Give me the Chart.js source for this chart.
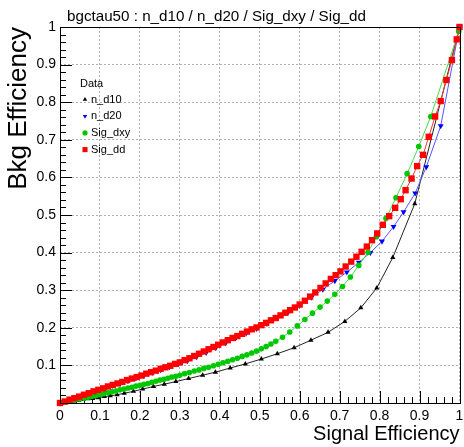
<!DOCTYPE html>
<html><head><meta charset="utf-8">
<script src="https://cdn.jsdelivr.net/npm/chart.js@4.4.0/dist/chart.umd.min.js"></script>
<style>html,body{margin:0;padding:0;background:#fff;}canvas{display:block;}</style>
</head><body>
<canvas id="c" width="464" height="447"></canvas>
<script>
const chartTitle = 'bgctau50 : n_d10 / n_d20 / Sig_dxy / Sig_dd';
const legendHeader = 'Data';
const seriesNames = ['n_d10', 'n_d20', 'Sig_dxy', 'Sig_dd'];
const xAxisTitle = 'Signal Efficiency';
const yAxisTitle = 'Bkg Efficiency';
const xTickLabels = ['0','0.1','0.2','0.3','0.4','0.5','0.6','0.7','0.8','0.9','1'];
const yTickLabels = ['','0.1','0.2','0.3','0.4','0.5','0.6','0.7','0.8','0.9','1'];

// n_d10 (black, triangle up)
const nd10X = [0.000,0.012,0.024,0.036,0.047,0.058,0.070,0.082,0.096,0.111,0.126,0.143,0.161,0.184,0.207,0.234,0.261,0.290,0.322,0.357,0.389,0.426,0.464,0.504,0.544,0.586,0.628,0.671,0.713,0.753,0.793,0.833,0.888,1.000];
const nd10Y = [0.000,0.002,0.003,0.005,0.007,0.009,0.011,0.012,0.014,0.017,0.019,0.022,0.026,0.031,0.037,0.044,0.050,0.057,0.065,0.074,0.082,0.093,0.104,0.117,0.131,0.147,0.167,0.188,0.217,0.253,0.306,0.387,0.530,1.000];

// n_d20 (blue, triangle down)
const nd20X = [0.000,0.015,0.030,0.046,0.062,0.079,0.096,0.114,0.132,0.151,0.170,0.190,0.210,0.231,0.252,0.274,0.296,0.319,0.342,0.366,0.390,0.415,0.440,0.466,0.492,0.518,0.545,0.572,0.600,0.629,0.658,0.688,0.718,0.748,0.777,0.806,0.835,0.860,0.889,0.917,0.953,1.000];
const nd20Y = [0.000,0.005,0.010,0.016,0.021,0.027,0.033,0.039,0.046,0.052,0.059,0.066,0.073,0.081,0.088,0.096,0.104,0.112,0.123,0.134,0.147,0.160,0.173,0.186,0.198,0.211,0.227,0.243,0.260,0.281,0.302,0.325,0.348,0.374,0.400,0.430,0.469,0.508,0.558,0.628,0.737,1.000];

// Sig_dxy (green, circle)
const sigDxyX = [0.000,0.010,0.020,0.030,0.040,0.050,0.060,0.070,0.080,0.090,0.100,0.110,0.120,0.130,0.140,0.150,0.160,0.170,0.180,0.190,0.200,0.210,0.220,0.230,0.240,0.250,0.260,0.270,0.280,0.290,0.300,0.312,0.324,0.336,0.348,0.360,0.372,0.384,0.396,0.408,0.420,0.432,0.444,0.456,0.468,0.480,0.492,0.504,0.516,0.528,0.540,0.557,0.575,0.594,0.613,0.632,0.651,0.669,0.688,0.707,0.727,0.748,0.771,0.792,0.816,0.841,0.869,0.898,0.928,0.998,1.000];
const sigDxyY = [0.000,0.002,0.004,0.007,0.009,0.011,0.013,0.015,0.018,0.020,0.022,0.025,0.027,0.030,0.032,0.035,0.037,0.040,0.042,0.045,0.047,0.050,0.052,0.055,0.058,0.061,0.063,0.066,0.069,0.071,0.074,0.078,0.081,0.085,0.088,0.092,0.095,0.099,0.103,0.107,0.111,0.115,0.119,0.124,0.128,0.133,0.138,0.144,0.150,0.157,0.164,0.175,0.189,0.205,0.222,0.239,0.255,0.271,0.289,0.310,0.335,0.366,0.401,0.442,0.491,0.546,0.610,0.682,0.762,0.988,1.000];

// Sig_dd (red, square)
const sigDdX = [0.000,0.012,0.024,0.036,0.048,0.060,0.072,0.084,0.096,0.108,0.120,0.132,0.144,0.156,0.168,0.180,0.192,0.204,0.216,0.228,0.240,0.252,0.264,0.276,0.288,0.300,0.312,0.324,0.336,0.348,0.360,0.372,0.384,0.396,0.408,0.420,0.432,0.444,0.456,0.468,0.480,0.492,0.504,0.516,0.528,0.540,0.552,0.564,0.576,0.588,0.600,0.613,0.626,0.639,0.652,0.665,0.678,0.690,0.702,0.715,0.729,0.742,0.755,0.768,0.781,0.794,0.808,0.824,0.839,0.853,0.865,0.880,0.894,0.909,0.923,0.939,0.953,0.967,0.981,0.993,1.000];
const sigDdY = [0.000,0.004,0.009,0.013,0.017,0.022,0.026,0.031,0.035,0.039,0.044,0.048,0.052,0.056,0.061,0.065,0.069,0.073,0.078,0.082,0.086,0.091,0.095,0.099,0.104,0.108,0.114,0.119,0.125,0.131,0.137,0.143,0.149,0.155,0.161,0.167,0.173,0.178,0.184,0.190,0.196,0.201,0.207,0.213,0.220,0.226,0.233,0.240,0.247,0.254,0.262,0.272,0.283,0.294,0.306,0.318,0.330,0.340,0.350,0.363,0.376,0.389,0.402,0.416,0.433,0.451,0.474,0.497,0.519,0.542,0.566,0.597,0.630,0.660,0.708,0.762,0.803,0.859,0.912,0.967,1.000];

const FONT = '"Liberation Sans", Arial, Helvetica, sans-serif';
const pts = (xs, ys) => xs.map((x, i) => ({x: x, y: ys[i]}));

const styles = [
  {name: seriesNames[0], line: '#222222', fill: '#000000', pointStyle: 'triangle', radius: 3, rotation: 0, order: 3},
  {name: seriesNames[1], line: '#5555ff', fill: '#0000ff', pointStyle: 'triangle', radius: 3.4, rotation: 180, order: 2},
  {name: seriesNames[2], line: '#44dd44', fill: '#00c800', pointStyle: 'circle', radius: 2.8, rotation: 0, order: 1},
  {name: seriesNames[3], line: '#ff3333', fill: '#ff0000', pointStyle: 'rect', radius: 4.5, rotation: 0, order: 0}
];
const seriesData = [pts(nd10X, nd10Y), pts(nd20X, nd20Y), pts(sigDxyX, sigDxyY), pts(sigDdX, sigDdY)];

const datasets = styles.map((s, i) => ({
  label: s.name,
  data: seriesData[i],
  showLine: true,
  borderColor: s.line,
  borderWidth: 1,
  backgroundColor: s.fill,
  pointBackgroundColor: s.fill,
  pointBorderColor: s.fill,
  pointBorderWidth: 0,
  pointStyle: s.pointStyle,
  pointRadius: s.radius,
  pointRotation: s.rotation,
  tension: 0,
  order: s.order,
  clip: false
}));

const rootStyle = {
  id: 'rootStyle',
  beforeDatasetsDraw(chart) {
    const ctx = chart.ctx, xs = chart.scales.x, ys = chart.scales.y, a = chart.chartArea;
    ctx.save();
    ctx.strokeStyle = '#000';
    ctx.lineWidth = 1;
    ctx.beginPath();
    for (let i = 0; i <= 50; i++) {
      const v = i / 50;
      const len = (i % 5 === 0) ? 12 : 6;
      const px = Math.round(xs.getPixelForValue(v)) + 0.5;
      ctx.moveTo(px, a.bottom);
      ctx.lineTo(px, a.bottom - len);
      const py = Math.round(ys.getPixelForValue(v)) + 0.5;
      ctx.moveTo(a.left, py);
      ctx.lineTo(a.left + len, py);
    }
    ctx.stroke();
    ctx.restore();
  },
  afterDatasetsDraw(chart) {
    const ctx = chart.ctx, a = chart.chartArea;
    ctx.save();
    ctx.strokeStyle = '#000';
    ctx.lineWidth = 1;
    ctx.strokeRect(Math.round(a.left) + 0.5, Math.round(a.top) + 0.5, Math.round(a.right - a.left), Math.round(a.bottom - a.top));
    // title
    ctx.fillStyle = '#000';
    ctx.font = '15.2px ' + FONT;
    ctx.textAlign = 'left';
    ctx.textBaseline = 'alphabetic';
    ctx.fillText(chartTitle, 67, 21);
    // legend
    ctx.font = '11px ' + FONT;
    ctx.fillText(legendHeader, 80, 87);
    styles.forEach((s, i) => {
      const y = 99.5 + i * 16.7;
      ctx.fillStyle = s.fill;
      ctx.strokeStyle = s.fill;
      Chart.helpers.drawPoint(ctx, {pointStyle: s.pointStyle, radius: s.pointStyle === 'rect' ? 3.6 : 2.6, rotation: s.rotation, borderWidth: 0}, 85, y);
      ctx.fillStyle = '#000';
      ctx.textBaseline = 'middle';
      ctx.fillText(s.name, 91, y);
    });
    ctx.restore();
  }
};

new Chart(document.getElementById('c'), {
  type: 'scatter',
  data: {datasets: datasets},
  options: {
    responsive: false,
    animation: false,
    events: [],
    layout: {padding: {left: 0, top: 27, right: 3, bottom: 0}},
    plugins: {legend: {display: false}, tooltip: {enabled: false}, title: {display: false}},
    scales: {
      x: {
        type: 'linear', min: 0, max: 1,
        afterFit(s) { s.height = 44; s.paddingRight = 0; s.paddingLeft = 0; },
        ticks: {stepSize: 0.1, color: '#000', font: {family: FONT, size: 14}, padding: 5, maxRotation: 0,
          callback: (v, i) => xTickLabels[i]},
        grid: {color: '#b0b0b0', lineWidth: 1, drawTicks: false},
        border: {display: false, dash: [2, 2]},
        title: {display: true, text: xAxisTitle, align: 'end', color: '#000', font: {family: FONT, size: 20}, padding: {top: 0, bottom: 1}}
      },
      y: {
        type: 'linear', min: 0, max: 1,
        afterFit(s) { s.width = 60; s.paddingTop = 0; s.paddingBottom = 0; },
        ticks: {stepSize: 0.1, color: '#000', font: {family: FONT, size: 14}, padding: 4,
          callback: (v, i) => yTickLabels[i]},
        grid: {color: '#b0b0b0', lineWidth: 1, drawTicks: false},
        border: {display: false, dash: [2, 2]},
        title: {display: true, text: yAxisTitle, align: 'end', color: '#000', font: {family: FONT, size: 26}, padding: {top: 3, bottom: 0}}
      }
    }
  },
  plugins: [rootStyle]
});
</script>
</body></html>
